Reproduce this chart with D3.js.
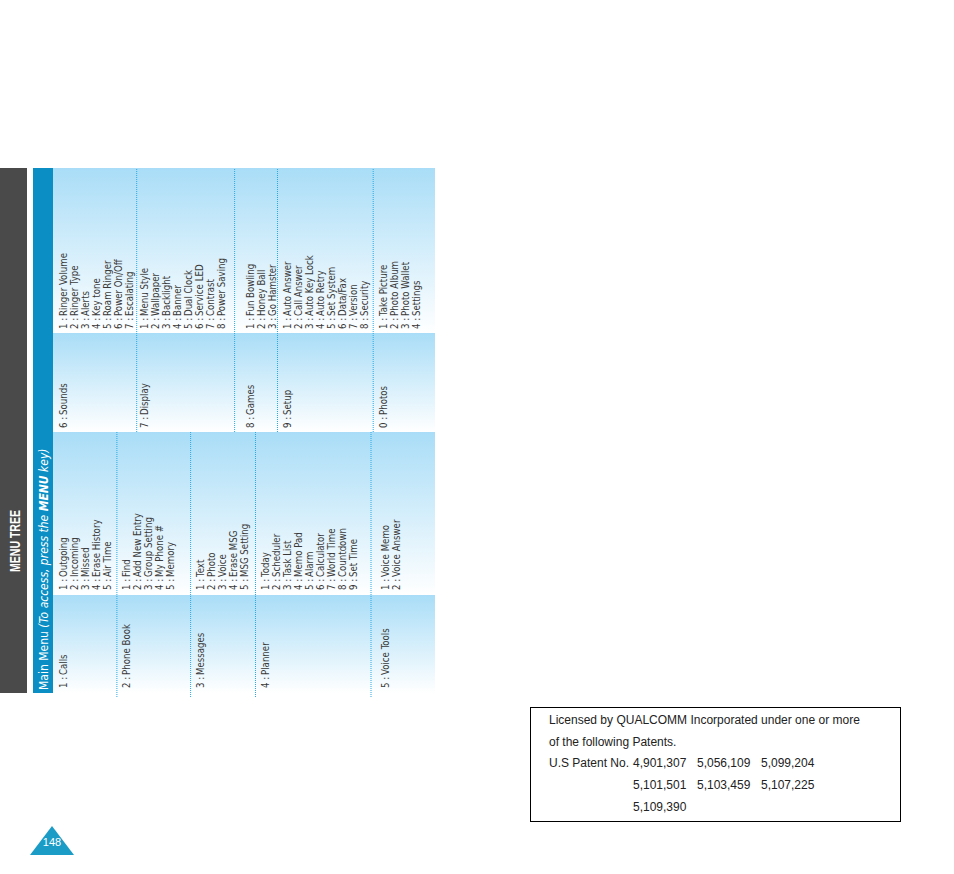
<!DOCTYPE html>
<html>
<head>
<meta charset="utf-8">
<script src="https://cdn.jsdelivr.net/npm/d3@7"></script>
<style>
  body { margin: 0; background: #fff; }
  svg { display: block; }
  .small { font-family: "DejaVu Sans Condensed", sans-serif; font-stretch: condensed; font-size: 9.6px; fill: #3a3a3a; }
</style>
</head>
<body>
<script>
// menu data, left half (main menu 1-5) and right half (6-0)
const leftMenus = ["1 : Calls", "2 : Phone Book", "3 : Messages", "4 : Planner", "5 : Voice Tools"];
const leftItems = [
  ["Outgoing", "Incoming", "Missed", "Erase History", "Air Time"],
  ["Find", "Add New Entry", "Group Setting", "My Phone #", "Memory"],
  ["Text", "Photo", "Voice", "Erase MSG", "MSG Setting"],
  ["Today", "Scheduler", "Task List", "Memo Pad", "Alarm", "Calculator", "World Time", "Countdown", "Set Time"],
  ["Voice Memo", "Voice Answer"]
];
const leftStartRow = [0, 5.8, 12.5, 18.4, 29.3];
const leftSepRow = [4.9, 11.6, 17.5, 28.0];

const rightMenus = ["6 : Sounds", "7 : Display", "8 : Games", "9 : Setup", "0 : Photos"];
const rightItems = [
  ["Ringer Volume", "Ringer Type", "Alerts", "Key tone", "Roam Ringer", "Power On/Off", "Escalating"],
  ["Menu Style", "Wallpaper", "Backlight", "Banner", "Dual Clock", "Service LED", "Contrast", "Power Saving"],
  ["Fun Bowling", "Honey Ball", "Go Hamster"],
  ["Auto Answer", "Call Answer", "Auto Key Lock", "Auto Retry", "Set System", "Data/Fax", "Version", "Security"],
  ["Take Picture", "Photo Album", "Photo Wallet", "Settings"]
];
const rightStartRow = [0, 7.45, 17, 20.4, 29.1];
const rightSepRow = [6.7, 15.6, 19.5, 28.2];

const patentLines = [
  ["Licensed by QUALCOMM Incorporated under one or more"],
  ["of the following Patents."],
  ["U.S Patent No.", "4,901,307", "5,056,109", "5,099,204"],
  ["", "5,101,501", "5,103,459", "5,107,225"],
  ["", "5,109,390"]
];
const pageNumber = "148";

const W = 954, H = 874;
const svg = d3.select("body").append("svg").attr("width", W).attr("height", H);

const defs = svg.append("defs");
const grad = defs.append("linearGradient").attr("id", "panel").attr("x1", 0).attr("x2", 1).attr("y1", 0).attr("y2", 0);
grad.append("stop").attr("offset", "0%").attr("stop-color", "#ffffff");
grad.append("stop").attr("offset", "100%").attr("stop-color", "#a9ddf7");

// page is rotated: local x runs up the screen from y=693
const g = svg.append("g").attr("transform", "translate(0,693) rotate(-90)");

const row = d3.scaleLinear().domain([0, 1]).range([63, 74]);   // row -> screen x (line centre)

// side bar
g.append("rect").attr("x", 0).attr("y", 0).attr("width", 525).attr("height", 27).attr("fill", "#4a4a4a");
g.append("text").attr("x", 121).attr("y", 20).attr("fill", "#fff")
  .attr("font-family", "Liberation Sans, Arial, sans-serif").attr("font-weight", "bold").attr("font-size", 15.5)
  .attr("textLength", 62).attr("lengthAdjust", "spacingAndGlyphs")
  .text("MENU TREE");

// header bar
g.append("rect").attr("x", 0).attr("y", 33).attr("width", 525).attr("height", 20).attr("fill", "#0a8ec3");
const ht = g.append("text").attr("x", 3).attr("y", 48).attr("fill", "#fff")
  .attr("font-family", "DejaVu Sans Condensed, sans-serif").attr("font-stretch", "condensed").attr("font-size", 12);
ht.append("tspan").text("Main Menu  ");
ht.append("tspan").attr("font-style", "italic").text("(To access, press the ");
ht.append("tspan").attr("font-style", "italic").attr("font-weight", "bold").text("MENU");
ht.append("tspan").attr("font-style", "italic").text(" key)");

// gradient panels
const panels = [[0, 98], [98, 261], [261, 360], [360, 525]];
g.selectAll("rect.panel").data(panels).enter().append("rect")
  .attr("class", "panel")
  .attr("x", d => d[0]).attr("y", 53).attr("width", d => d[1] - d[0]).attr("height", 382)
  .attr("fill", "url(#panel)");

// dotted separators
function seps(rows, x0, x1) {
  g.selectAll(null).data(rows).enter().append("line")
    .attr("x1", x0).attr("x2", x1)
    .attr("y1", d => row(d)).attr("y2", d => row(d))
    .attr("stroke", "#2aa9e2").attr("stroke-width", 1).attr("stroke-dasharray", "1,1");
}
seps(leftSepRow, -4, 261);
seps(rightSepRow, 261, 525);

function block(menus, items, starts, labelX, itemX) {
  menus.forEach((m, i) => {
    const parts = m.split(" : ");
    g.append("text").attr("class", "small").attr("x", labelX).attr("y", row(starts[i]) + 3.5).text(parts[0] + " :");
    g.append("text").attr("class", "small").attr("x", labelX + 13).attr("y", row(starts[i]) + 3.5).text(parts[1]);
    g.selectAll(null).data(items[i]).enter().append("g").each(function (d, j) {
      const y = row(starts[i] + j) + 3.5;
      d3.select(this).append("text").attr("class", "small").attr("x", itemX).attr("y", y).text((j + 1) + " :");
      d3.select(this).append("text").attr("class", "small").attr("x", itemX + 13).attr("y", y).text(d);
    });
  });
}
block(leftMenus, leftItems, leftStartRow, 5, 103);
block(rightMenus, rightItems, rightStartRow, 265, 364);

// patent box
svg.append("rect").attr("x", 530.5).attr("y", 707.5).attr("width", 370).attr("height", 114)
  .attr("fill", "none").attr("stroke", "#000").attr("stroke-width", 1);
const colX = [549, 633, 697, 761];
patentLines.forEach((ln, i) => {
  ln.forEach((t, k) => {
    svg.append("text").attr("x", colX[k]).attr("y", 724 + i * 21.7)
      .attr("font-family", "Liberation Sans, Arial, sans-serif").attr("font-size", 12)
      .attr("fill", "#222").text(t);
  });
});

// page number tab
svg.append("path").attr("d", "M52,826 L74,855 L30,855 Z").attr("fill", "#1b9cc6");
svg.append("text").attr("x", 52).attr("y", 846).attr("text-anchor", "middle").attr("fill", "#fff")
  .attr("font-family", "Liberation Sans, sans-serif").attr("font-size", 11).text(pageNumber);
</script>
</body>
</html>
